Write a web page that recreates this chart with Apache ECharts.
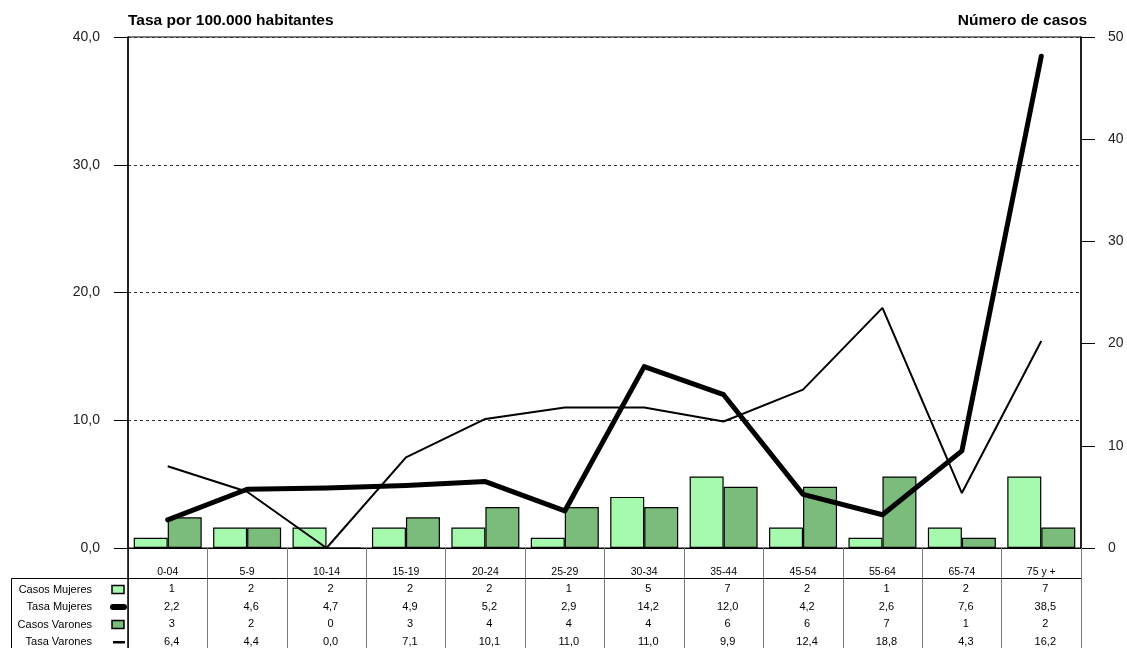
<!DOCTYPE html>
<html>
<head>
<meta charset="utf-8">
<script src="https://cdn.jsdelivr.net/npm/echarts@6/dist/echarts.min.js"></script>
<style>html,body{margin:0;padding:0;background:#fff;}#c{width:1127px;height:648px;}</style>
</head>
<body>
<div id="c"></div>
<script>
const categories = ['0-04','5-9','10-14','15-19','20-24','25-29','30-34','35-44','45-54','55-64','65-74','75 y +'];
const casosMujeres = [1,2,2,2,2,1,5,7,2,1,2,7];
const tasaMujeres = [2.2,4.6,4.7,4.9,5.2,2.9,14.2,12.0,4.2,2.6,7.6,38.5];
const casosVarones = [3,2,0,3,4,4,4,6,6,7,1,2];
const tasaVarones = [6.4,4.4,0.0,7.1,10.1,11.0,11.0,9.9,12.4,18.8,4.3,16.2];
const rowNames = ['Casos Mujeres','Tasa Mujeres','Casos Varones','Tasa Varones'];

const FONT = '"Liberation Sans", Arial, sans-serif';
const LIGHT = '#A6FAAE';
const DARK = '#7BBB7B';
const fmt1 = v => v.toFixed(1).replace('.', ',');

const chart = echarts.init(document.getElementById('c'), null, {renderer:'canvas'});

const rowY = [589.5, 607, 624.5, 642];
const graphics = [];
graphics.push({type:'line', shape:{x1:11.5, y1:578.5, x2:1081, y2:578.5}, style:{stroke:'#000', lineWidth:1}, z:10});
graphics.push({type:'line', shape:{x1:11.5, y1:578.5, x2:11.5, y2:648}, style:{stroke:'#000', lineWidth:1}, z:10});
graphics.push({type:'line', shape:{x1:128, y1:548, x2:128, y2:648}, style:{stroke:'#000', lineWidth:1.5}, z:10});
rowNames.forEach((n, i) => {
  graphics.push({type:'text', style:{text:n, x:92, y:rowY[i], align:'right', verticalAlign:'middle', font:'11px ' + FONT, fill:'#000'}, z:10});
});
graphics.push({type:'rect', shape:{x:112, y:rowY[0]-4, width:12, height:8}, style:{fill:LIGHT, stroke:'#000', lineWidth:1.5}, z:10});
graphics.push({type:'rect', shape:{x:110, y:rowY[1]-3, width:17, height:6, r:3}, style:{fill:'#000'}, z:10});
graphics.push({type:'rect', shape:{x:112, y:rowY[2]-4, width:12, height:8}, style:{fill:DARK, stroke:'#000', lineWidth:1.5}, z:10});
graphics.push({type:'rect', shape:{x:113, y:rowY[3]-1, width:12, height:2.5}, style:{fill:'#000'}, z:10});

const option = {
  animation: false,
  backgroundColor: '#fff',
  grid: {left:128, right:46, top:37, bottom:100, show:true, borderColor:'#000', borderWidth:1,
         backgroundColor:'transparent', outerBoundsMode:'none', containLabel:false},
  xAxis: {
    type:'category', data: categories, boundaryGap:true,
    axisLine:{lineStyle:{color:'#000', width:1}},
    axisTick:{show:true, interval:0, length:100, lineStyle:{color:'#7a7a7a', width:1}},
    axisLabel:{
      interval:0, margin:15, color:'#000', fontFamily:FONT, fontSize:11, lineHeight:17.5,
      formatter: (v, idx) => {
        return '{c|' + v + '}\n{v|' + casosMujeres[idx] + '}\n{v|' + fmt1(tasaMujeres[idx]) + '}\n{v|' + casosVarones[idx] + '}\n{v|' + fmt1(tasaVarones[idx]) + '}';
      },
      rich:{
        c:{fontFamily:FONT, fontSize:10.5, lineHeight:17.5, color:'#000'},
        v:{fontFamily:FONT, fontSize:11, lineHeight:17.5, color:'#000', padding:[0,0,0,8]}
      }
    }
  },
  yAxis: [
    {
      type:'value', min:0, max:40, interval:10, position:'left',
      name:'Tasa por 100.000 habitantes', nameLocation:'end', nameGap:8,
      nameTextStyle:{align:'left', fontWeight:'bold', fontSize:15.5, fontFamily:FONT, color:'#000'},
      axisLine:{show:true, lineStyle:{color:'#000', width:1.5}},
      axisTick:{show:true, length:14, lineStyle:{color:'#000'}},
      axisLabel:{margin:28, formatter:v => fmt1(v), fontFamily:FONT, fontSize:14, color:'#222'},
      splitLine:{show:true, lineStyle:{color:'#333', type:[3,3], width:1}}
    },
    {
      type:'value', min:0, max:50, interval:10, position:'right',
      name:'Número de casos', nameLocation:'end', nameGap:8,
      nameTextStyle:{align:'right', fontWeight:'bold', fontSize:15.5, fontFamily:FONT, color:'#000', padding:[0,-6,0,0]},
      axisLine:{show:true, lineStyle:{color:'#000', width:1.5}},
      axisTick:{show:true, length:14, lineStyle:{color:'#000'}},
      axisLabel:{margin:27, fontFamily:FONT, fontSize:14, color:'#222'},
      splitLine:{show:false}
    }
  ],
  series: [
    {name:'Casos Mujeres', type:'bar', yAxisIndex:1, data:casosMujeres, barWidth:34, barGap:'0%',
     itemStyle:{color:LIGHT, borderColor:'#000', borderWidth:1.2}},
    {name:'Casos Varones', type:'bar', yAxisIndex:1, data:casosVarones, barWidth:34, barGap:'0%',
     itemStyle:{color:DARK, borderColor:'#000', borderWidth:1.2}},
    {name:'Tasa Mujeres', type:'line', yAxisIndex:0, data:tasaMujeres, symbol:'none',
     lineStyle:{color:'#000', width:5, cap:'round', join:'round'}, z:5},
    {name:'Tasa Varones', type:'line', yAxisIndex:0, data:tasaVarones, symbol:'none',
     lineStyle:{color:'#000', width:2}, z:5}
  ],
  graphic: graphics
};
chart.setOption(option);
</script>
</body>
</html>
